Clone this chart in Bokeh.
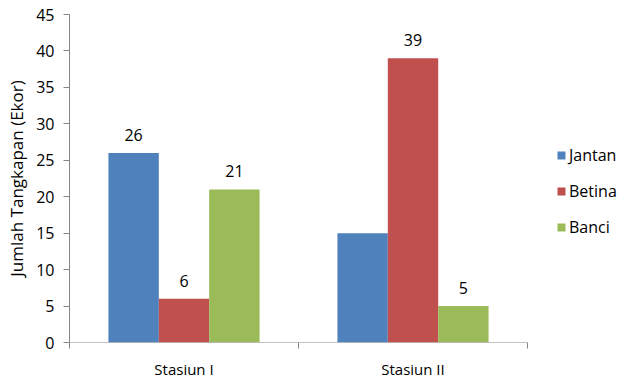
from bokeh.plotting import figure
from bokeh.models import (ColumnDataSource, Range1d, FixedTicker, Legend, LegendItem,
                          LinearAxis)
from bokeh.transform import dodge
from bokeh.core.properties import value
from bokeh.embed import file_html
from bokeh.resources import INLINE

categories = ["Stasiun I", "Stasiun II"]
series = ["Jantan", "Betina", "Banci"]
jantan = [26, 15]
betina = [6, 39]
banci = [21, 5]
# data labels shown in the reference (Stasiun II Jantan has none)
jantan_labels = ["26", ""]
betina_labels = ["6", "39"]
banci_labels = ["21", "5"]
y_ticks = [0, 5, 10, 15, 20, 25, 30, 35, 40, 45]

colors = ["#4F81BD", "#C0504D", "#9BBB59"]
FONT = "Open Sans"
axis_color = "#868686"

# layout: plot frame spans to the right edge so the legend can sit inside it;
# the category axis itself occupies the first 458 px of the 551 px frame.
LEFT = 69
FRAME_W = 620 - LEFT
AXIS_W = 458
n = len(categories)
x_end = n * FRAME_W / AXIS_W

pos = [i + 0.5 for i in range(n)]
src = ColumnDataSource(dict(pos=pos, Jantan=jantan, Betina=betina, Banci=banci,
                            lJ=jantan_labels, lB=betina_labels, lC=banci_labels))

p = figure(width=620, height=381, output_backend="svg", toolbar_location=None,
           x_range=Range1d(0, x_end), y_range=Range1d(0, 45),
           min_border_left=LEFT, min_border_right=0, min_border_top=14,
           min_border_bottom=38, x_axis_type=None, y_axis_type=None)
p.outline_line_color = None
p.xgrid.visible = False
p.ygrid.visible = False
p.background_fill_color = "white"
p.border_fill_color = "white"

bw = 0.22
offsets = [-bw, 0, bw]
labels_cols = ["lJ", "lB", "lC"]
renderers = []
for s, c, off, lc in zip(series, colors, offsets, labels_cols):
    r = p.vbar(x=dodge("pos", off, range=p.x_range), top=s, width=bw, source=src,
               fill_color=c, line_color=None)
    renderers.append(r)
    p.text(x=dodge("pos", off, range=p.x_range), y=s, text=lc, source=src,
           text_align="center", text_baseline="alphabetic", y_offset=-18,
           text_font=value(FONT), text_font_size="16px", text_color="#000000")

# category axis line (only across the categories)
p.segment(x0=[0], y0=[0], x1=[n], y1=[0], line_color=axis_color, line_width=1)

yaxis = LinearAxis(ticker=FixedTicker(ticks=y_ticks),
                   axis_label="Jumlah Tangkapan (Ekor)",
                   axis_label_text_font=FONT, axis_label_text_font_size="17px",
                   axis_label_text_font_style="normal", axis_label_standoff=5,
                   major_label_text_font=FONT, major_label_text_font_size="16px",
                   major_label_text_color="#000000", axis_label_text_color="#000000",
                   axis_line_color=axis_color, major_tick_line_color=axis_color,
                   major_tick_out=6, major_tick_in=0, minor_tick_line_color=None,
                   major_label_standoff=9)
p.add_layout(yaxis, "left")

xaxis = LinearAxis(ticker=FixedTicker(ticks=pos, minor_ticks=list(range(n + 1))),
                   major_label_overrides={pos[i]: categories[i] for i in range(n)},
                   major_label_text_font=FONT, major_label_text_font_size="15px",
                   major_label_text_color="#000000",
                   axis_line_color=None, major_tick_line_color=None,
                   major_tick_out=6, major_tick_in=0,
                   minor_tick_line_color=axis_color, minor_tick_out=6, minor_tick_in=0,
                   major_label_standoff=10)
p.add_layout(xaxis, "below")

legend = Legend(items=[LegendItem(label=s, renderers=[r]) for s, r in zip(series, renderers)],
                location=(487, 104), orientation="vertical",
                glyph_width=10, glyph_height=10, label_height=20, spacing=14,
                label_standoff=3, padding=0, margin=0,
                label_text_font=FONT, label_text_font_size="16px",
                label_text_color="#000000",
                border_line_color=None, background_fill_alpha=0)
p.add_layout(legend, "center")

open("out.html", "w").write(file_html(p, INLINE))
